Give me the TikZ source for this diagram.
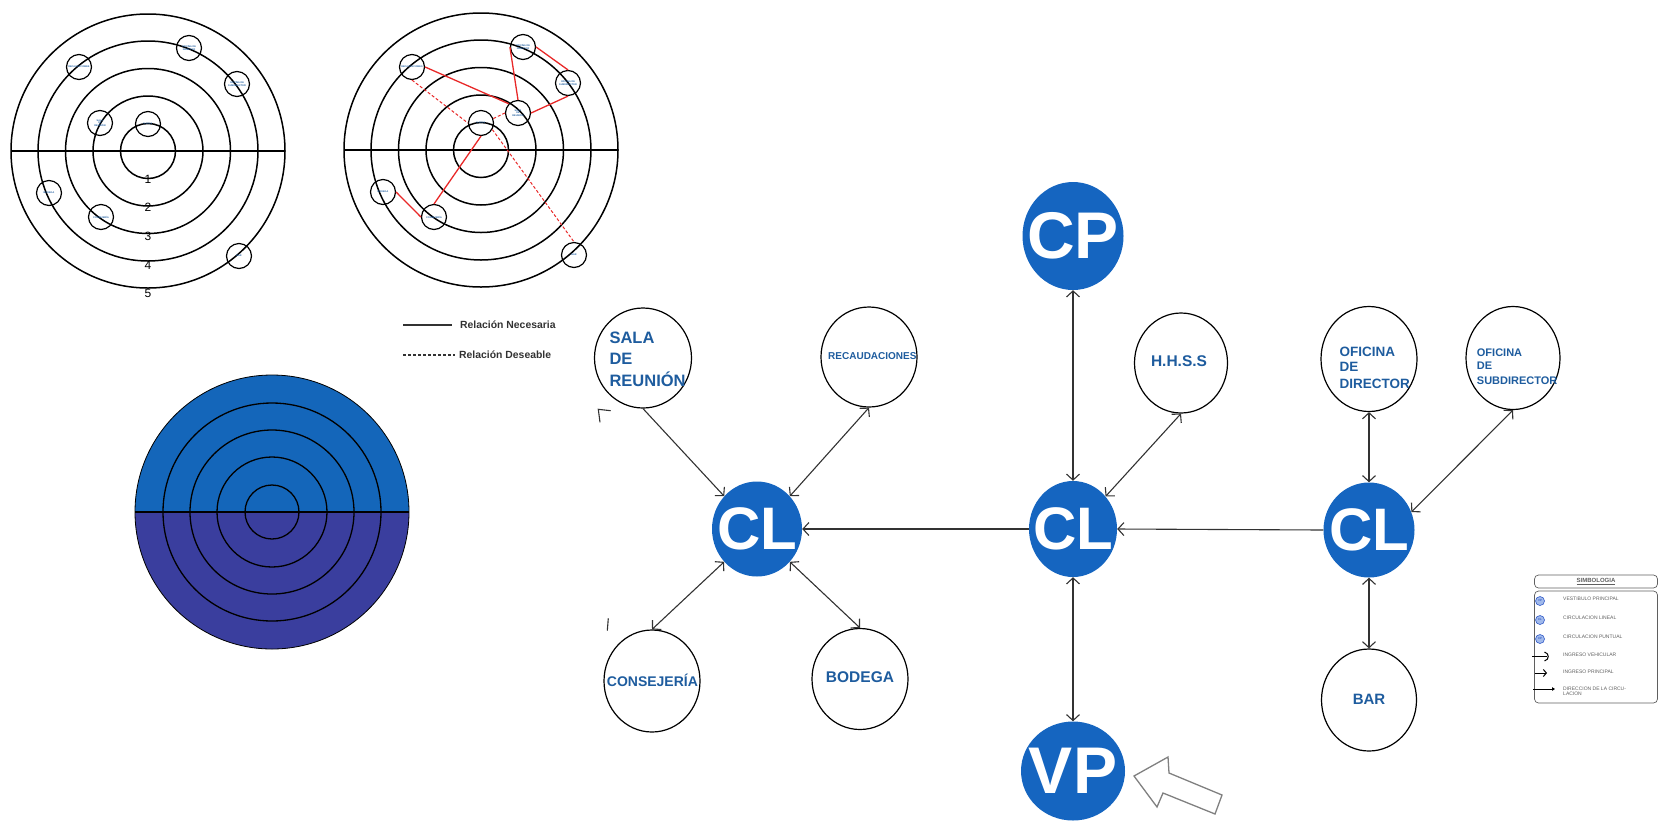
\documentclass[tikz,border=0pt]{standalone}
\usepackage{fontspec}
\setmainfont{Liberation Sans}
\usetikzlibrary{arrows.meta,shapes.geometric}

\definecolor{hubblue}{RGB}{21,101,192}
\definecolor{roomtext}{RGB}{30,92,158}
\definecolor{linkgray}{RGB}{50,50,50}
\definecolor{relred}{RGB}{232,40,40}
\definecolor{halfblue}{RGB}{20,102,186}
\definecolor{halfindigo}{RGB}{58,62,158}
\definecolor{legendgray}{RGB}{95,95,95}
\definecolor{chipfill}{RGB}{160,185,235}
\definecolor{chipline}{RGB}{50,90,200}

\newcommand\fsz[1]{\fontsize{#1}{#1}\selectfont}

\tikzset{
  hub/.style={ellipse, fill=hubblue, inner sep=0pt},
  hubfont/.style={text=white, font=\fsz{60}\bfseries, inner sep=0pt},
  bigfont/.style={text=white, font=\fsz{66}\bfseries, inner sep=0pt},
  room/.style={ellipse, draw=black, line width=1.2pt, inner sep=0pt},
  roomlbl/.style={text=roomtext, inner sep=0pt, anchor=base west},
  roomctr/.style={text=roomtext, inner sep=0pt, anchor=base},
  link/.style={draw=linkgray, line width=1.1pt, {Straight Barb[length=6pt,width=13pt]}-{Straight Barb[length=6pt,width=13pt]}},
  feed/.style={draw=linkgray, line width=1.1pt, -{Straight Barb[length=6pt,width=13pt]}},
  ring/.style={draw=black, line width=1.5pt},
  spot/.style={circle, draw=black, line width=1.2pt, minimum size=25pt, inner sep=0pt,
    text=roomtext, font=\fsz{2.4}\bfseries, align=center},
  need/.style={draw=relred, line width=1.3pt},
  wish/.style={draw=relred, line width=1pt, dash pattern=on 3pt off 2pt},
  ringnum/.style={font=\fsz{12}, inner sep=0pt},
  keytext/.style={font=\fsz{10.4}\bfseries, text=linkgray, inner sep=0pt, anchor=west},
  chip/.style={circle, fill=chipfill, draw=chipline, line width=0.6pt, minimum size=9pt,
    inner sep=0pt, font=\fsz{2.8}\bfseries, text=chipline},
  item/.style={anchor=west, font=\fsz{5}, text=legendgray, inner sep=0pt, align=left},
}

\begin{document}
\begin{tikzpicture}[x=1pt,y=-1pt]
\useasboundingbox (0,0) rectangle (1659,820);

% ---------- zoning diagram 1: rings with rooms ----------
\foreach \r in {27.5,55,82.5,110,137} \draw[ring] (148,151) circle[radius=\r];
\draw[ring] (11,151) -- (285,151);
\node[ringnum] (n1) at (148,179) {1};
\node[ringnum] (n2) at (148,207) {2};
\node[ringnum] (n3) at (148,236) {3};
\node[ringnum] (n4) at (148,265) {4};
\node[ringnum] (n5) at (148,293) {5};

\node[spot] (a-rec) at (79,67) {RECAUDACIONES};
\node[spot] (a-dir) at (189,48) {OFICINA DE\\DIRECTOR};
\node[spot] (a-sub) at (237,84) {OFICINA DE\\SUBDIRECTOR};
\node[spot] (a-sala) at (100,123) {SALA\\DE\\REUNIÓN};
\node[spot] (a-hhss) at (148,124) {H.H.S.S};
\node[spot] (a-bod) at (49,193) {BODEGA};
\node[spot] (a-con) at (101,217) {CONSEJERÍA};
\node[spot] (a-bar) at (239,256) {BAR};

% ---------- zoning diagram 2: rings with relations ----------
\foreach \r in {27.5,55,82.5,110,137} \draw[ring] (481,150) circle[radius=\r];
\draw[ring] (344,150) -- (618,150);

\node[spot] (b-rec) at (412,67) {RECAUDACIONES};
\node[spot] (b-dir) at (523,47) {OFICINA DE\\DIRECTOR};
\node[spot] (b-sub) at (568,83) {OFICINA DE\\SUBDIRECTOR};
\node[spot] (b-sala) at (518,113) {SALA\\DE\\REUNIÓN};
\node[spot] (b-hhss) at (481,123) {H.H.S.S};
\node[spot] (b-bod) at (383,192) {BODEGA};
\node[spot] (b-con) at (434,217) {CONSEJERÍA};
\node[spot] (b-bar) at (574,255) {BAR};

\draw[need] (b-rec.east) -- (b-sala.north west);
\draw[need] (b-dir.west) -- (b-sala.north);
\draw[need] (b-dir.east) -- (b-sub.north);
\draw[need] (b-sub.south) -- (b-sala.east);
\draw[need] (b-hhss.south) -- (b-con.north);
\draw[need] (b-bod.east) -- (b-con.west);
\draw[wish] (b-rec.south) -- (b-hhss.west);
\draw[wish] (b-hhss.20) -- (b-sala.west);
\draw[wish] (b-hhss.-30) -- (b-bar.north);

% ---------- relation key ----------
\coordinate (nec-a) at (403,325);
\coordinate (nec-b) at (452,325);
\draw[draw=linkgray, line width=1.2pt] (nec-a) -- (nec-b);
\node[keytext] (nec) at (460,325) {Relación Necesaria};
\coordinate (des-a) at (403,355);
\coordinate (des-b) at (455,355);
\draw[draw=linkgray, line width=1.1pt, dash pattern=on 3pt off 2pt] (des-a) -- (des-b);
\node[keytext] (des) at (459,355) {Relación Deseable};

% ---------- coloured ring diagram ----------
\fill[halfblue] (135,512) arc[start angle=180,end angle=360,radius=137] -- cycle;
\fill[halfindigo] (135,512) arc[start angle=180,end angle=0,radius=137] -- cycle;
\foreach \r in {27,55,82,109} \draw[black, line width=1.3pt] (272,512) circle[radius=\r];
\draw[black, line width=0.8pt] (272,512) circle[radius=137];
\draw[black, line width=1.3pt] (135,512) -- (409,512);

% ---------- circulation graph ----------
\node[hub, minimum width=90pt, minimum height=95pt, label={[hubfont]center:CL}] (cll) at (757,529) {};
\node[hub, minimum width=88pt, minimum height=96pt, label={[hubfont]center:CL}] (clm) at (1073,529) {};
\node[hub, minimum width=91pt, minimum height=95pt, label={[hubfont]center:CL}] (clr) at (1369,530) {};
\node[hub, minimum width=101pt, minimum height=108pt, label={[bigfont]center:CP}] (cp) at (1073,236) {};
\node[hub, minimum width=104pt, minimum height=99pt, label={[bigfont]center:VP}] (vp) at (1073,771) {};

\node[room, minimum width=97pt, minimum height=100pt] (sala) at (643,358) {};
\node[room, minimum width=96pt, minimum height=100pt] (rec) at (869,357) {};
\node[room, minimum width=96pt, minimum height=102pt] (con) at (652,681) {};
\node[room, minimum width=96pt, minimum height=101pt] (bod) at (860,679) {};
\node[room, minimum width=93pt, minimum height=100pt] (hhss) at (1181,363) {};
\node[room, minimum width=96pt, minimum height=105pt] (dir) at (1369,359) {};
\node[room, minimum width=94pt, minimum height=103pt] (sub) at (1513,358) {};
\node[room, minimum width=95pt, minimum height=102pt] (bar) at (1369,700) {};

\begin{scope}[every node/.append style={font=\fsz{16.5}\bfseries}]
\node[roomlbl] (sala-1) at (609.3,343.3) {SALA};
\node[roomlbl] (sala-2) at (609.3,364.3) {DE};
\node[roomlbl] (sala-3) at (609.3,386) {REUNIÓN};
\end{scope}
\node[roomlbl, font=\fsz{10}\bfseries] (rec-t) at (828,359.3) {RECAUDACIONES};
\node[roomlbl, font=\fsz{14}\bfseries] (con-t) at (606.7,686.7) {CONSEJERÍA};
\node[roomctr, font=\fsz{15.5}\bfseries] (bod-t) at (860,682.3) {BODEGA};
\node[roomctr, font=\fsz{15.5}\bfseries] (hhss-t) at (1179,366.7) {H.H.S.S};
\begin{scope}[every node/.append style={font=\fsz{13.5}\bfseries}]
\node[roomlbl] (dir-1) at (1339.3,356) {OFICINA};
\node[roomlbl] (dir-2) at (1339.3,371.7) {DE};
\node[roomlbl] (dir-3) at (1339.3,388) {DIRECTOR};
\end{scope}
\begin{scope}[every node/.append style={font=\fsz{11}\bfseries}]
\node[roomlbl] (sub-1) at (1476.7,356.7) {OFICINA};
\node[roomlbl] (sub-2) at (1476.7,369) {DE};
\node[roomlbl] (sub-3) at (1476.7,384) {SUBDIRECTOR};
\end{scope}
\node[roomctr, font=\fsz{15}\bfseries] (bar-t) at (1369,704) {BAR};

% connectors
\draw[feed] (sala.south) -- (cll.135);
\draw[link] (rec.south) -- (cll.45);
\draw[link] (con.north) -- (cll.225);
\draw[link] (bod.north) -- (cll.-45);
\draw[feed] (clm.west) -- (cll.east);
\draw[link] (cp.south) -- (clm.north);
\draw[link] (hhss.south) -- (clm.45);
\draw[link] (clm.south) -- (vp.north);
\draw[feed] (clr.west) -- (clm.east);
\draw[link] (dir.south) -- (clr.north);
\draw[link] (sub.south) -- (clr.23);
\draw[link] (clr.south) -- (bar.north);

% pencil marks
\draw[draw=linkgray, line width=1.1pt] (610.7,410.7) -- (598.3,409.3) -- (600,422.3);
\draw[draw=linkgray, line width=1.1pt] (608.3,618.3) -- (607.3,630.7);

% main entrance arrow
\draw[draw=gray, fill=white, line width=1.3pt, line join=miter]
  (1134,776) -- (1168,757) -- (1169,773) -- (1222,795) -- (1215,814)
  -- (1163,793) -- (1157,807) -- cycle;

% ---------- symbol key ----------
\node[draw=legendgray, rounded corners=4pt, line width=0.7pt, minimum width=123pt,
  minimum height=13pt, inner sep=0pt, text=legendgray, font=\fsz{6}\bfseries]
  (simb-title) at (1596,581.5) {\underline{SIMBOLOGIA}};
\node[draw=legendgray, rounded corners=4pt, line width=0.7pt, minimum width=123pt,
  minimum height=112pt, inner sep=0pt] (simb-body) at (1596,647) {};

\node[chip] (k-vp) at (1540,601) {VP};
\node[item] (k-vp-t) at (1563,599) {VESTIBULO PRINCIPAL};
\node[chip] (k-cl) at (1540,620) {CL};
\node[item] (k-cl-t) at (1563,618) {CIRCULACION LINEAL};
\node[chip] (k-cp) at (1540,639) {CP};
\node[item] (k-cp-t) at (1563,637) {CIRCULACION PUNTUAL};

\coordinate (veh-a) at (1532,656.5);
\coordinate (veh-b) at (1547,656.5);
\draw[black, line width=1pt] (veh-a) -- (veh-b);
\draw[black, line width=1pt] (1544.5,652) .. controls (1549.5,653.5) and (1549.5,659.5) .. (1544.5,661);
\node[item] (k-veh-t) at (1563,655) {INGRESO VEHICULAR};

\coordinate (ing-a) at (1535,673);
\coordinate (ing-b) at (1547,673);
\draw[black, line width=1pt, -{Straight Barb[length=3pt,width=7pt]}] (ing-a) -- (ing-b);
\node[item] (k-ing-t) at (1563,671.5) {INGRESO PRINCIPAL};

\coordinate (dirc-a) at (1533,689);
\coordinate (dirc-b) at (1555,689);
\draw[black, line width=0.8pt, -{Triangle[length=3pt,width=3.5pt]}] (dirc-a) -- (dirc-b);
\node[item] (k-dirc-t) at (1563,691) {DIRECCION DE LA CIRCU-\\LACION};
\end{tikzpicture}
\end{document}
